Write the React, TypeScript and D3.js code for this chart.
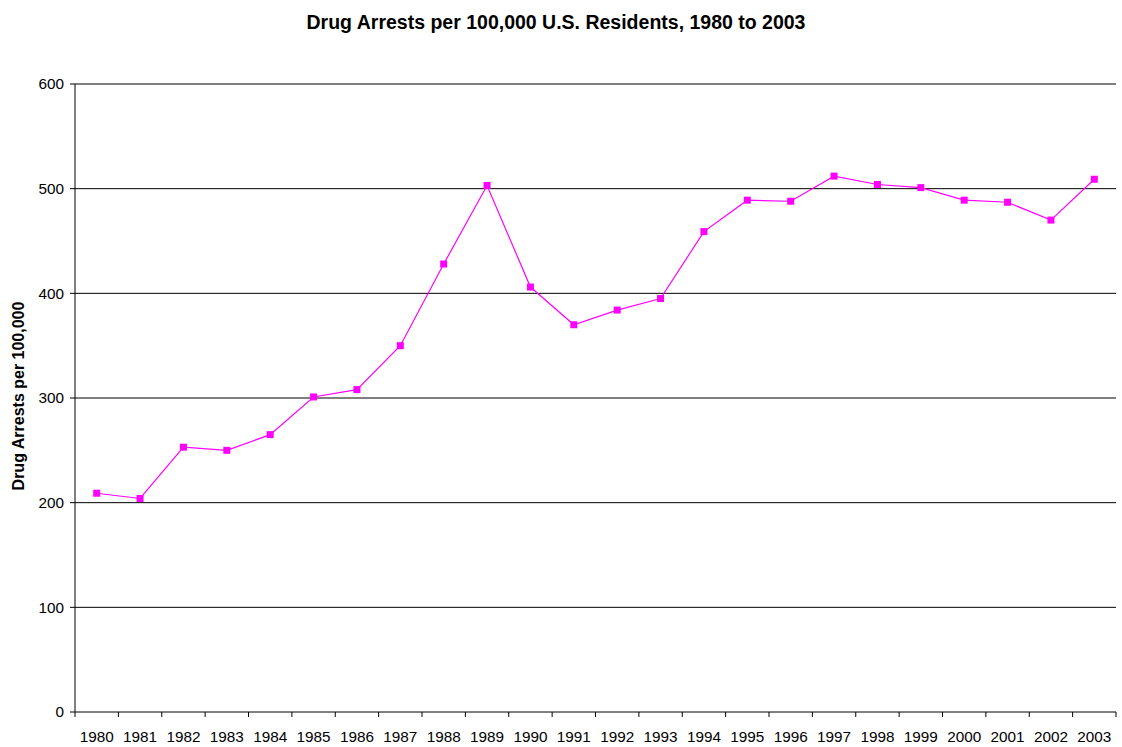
import React from 'react'
import * as d3 from 'd3'

const years = ['1980', '1981', '1982', '1983', '1984', '1985', '1986', '1987', '1988', '1989', '1990', '1991',
  '1992', '1993', '1994', '1995', '1996', '1997', '1998', '1999', '2000', '2001', '2002', '2003']
const arrests = [209, 204, 253, 250, 265, 301, 308, 350, 428, 503, 406, 370,
  384, 395, 459, 489, 488, 512, 504, 501, 489, 487, 470, 509]
const yTicks = [0, 100, 200, 300, 400, 500, 600]

const W = 1122
const H = 747
const margin = { top: 84, right: 6, bottom: 35, left: 75 }
const font = 'Liberation Sans, Arial, sans-serif'

export default function App() {
  const innerW = W - margin.left - margin.right
  const innerH = H - margin.top - margin.bottom

  const x = d3.scaleBand<string>().domain(years).range([0, innerW])
  const y = d3.scaleLinear().domain([0, 600]).range([innerH, 0])

  const line = d3.line<number>()
    .x((_, i) => (x(years[i]) ?? 0) + x.bandwidth() / 2)
    .y(d => y(d))

  const bounds = [...years.map(yr => x(yr) ?? 0), innerW]

  return (
    <svg width={W} height={H} style={{ position: 'absolute', left: 0, top: 0, background: '#fff' }}
      fontFamily={font}>
      <text x={556} y={29} textAnchor="middle" fontSize={19.5} fontWeight="bold">
        Drug Arrests per 100,000 U.S. Residents, 1980 to 2003
      </text>
      <g transform={`translate(${margin.left},${margin.top})`}>
        {/* gridlines */}
        {yTicks.filter(t => t > 0).map(t => (
          <line key={t} x1={0} x2={innerW} y1={y(t)} y2={y(t)} stroke="#000" strokeWidth={1} />
        ))}
        {/* y axis */}
        <line x1={0} x2={0} y1={0} y2={innerH} stroke="#000" />
        {yTicks.map(t => (
          <g key={t}>
            <line x1={-5} x2={0} y1={y(t)} y2={y(t)} stroke="#000" />
            <text x={-11} y={y(t)} dy="0.35em" textAnchor="end" fontSize={15.3}>{t}</text>
          </g>
        ))}
        {/* x axis */}
        <line x1={0} x2={innerW} y1={innerH} y2={innerH} stroke="#000" />
        {bounds.map((b, i) => (
          <line key={i} x1={b} x2={b} y1={innerH} y2={innerH + 5} stroke="#000" />
        ))}
        {years.map(yr => (
          <text key={yr} x={(x(yr) ?? 0) + x.bandwidth() / 2} y={innerH + 30} textAnchor="middle" fontSize={15.3}>
            {yr}
          </text>
        ))}
        {/* series */}
        <path d={line(arrests) ?? ''} fill="none" stroke="#ff00ff" strokeWidth={1.2} />
        {arrests.map((v, i) => (
          <rect key={i} x={(x(years[i]) ?? 0) + x.bandwidth() / 2 - 3.5} y={y(v) - 3.5} width={7} height={7}
            fill="#ff00ff" />
        ))}
      </g>
      <text transform={`translate(24,396) rotate(-90)`} textAnchor="middle"
        fontSize={16} fontWeight="bold">
        Drug Arrests per 100,000
      </text>
    </svg>
  )
}
